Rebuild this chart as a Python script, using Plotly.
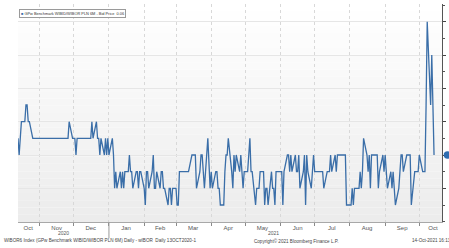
import plotly.graph_objects as go
import pandas as pd

# ---------------- data ----------------
start_date = "2020-10-13"
values = [
    0.07, 0.06, 0.07, 0.08, 0.08, 0.09, 0.09, 0.08, 0.08, 0.07,
    0.07, 0.07, 0.07, 0.07, 0.07, 0.07, 0.07, 0.07, 0.07, 0.07,
    0.07, 0.07, 0.07, 0.07, 0.07, 0.07, 0.07, 0.07, 0.07, 0.07,
    0.07, 0.07, 0.07, 0.08, 0.07, 0.07, 0.07, 0.06, 0.07, 0.07,
    0.07, 0.07, 0.07, 0.07, 0.07, 0.07, 0.07, 0.08, 0.07, 0.08,
    0.07, 0.07, 0.06, 0.07, 0.06, 0.07, 0.06, 0.07, 0.06, 0.07,
    0.06, 0.04, 0.05, 0.04, 0.05, 0.04, 0.05, 0.04, 0.05, 0.05,
    0.06, 0.05, 0.05, 0.04, 0.05, 0.05, 0.04, 0.05, 0.05, 0.04,
    0.03, 0.05, 0.05, 0.04, 0.05, 0.06, 0.04, 0.04, 0.05, 0.04,
    0.05, 0.05, 0.04, 0.04, 0.03, 0.04, 0.04, 0.03, 0.04, 0.04,
    0.03, 0.03, 0.05, 0.05, 0.05, 0.05, 0.05, 0.05, 0.05, 0.06,
    0.06, 0.06, 0.06, 0.04, 0.05, 0.06, 0.06, 0.05, 0.04, 0.07,
    0.05, 0.04, 0.05, 0.04, 0.05, 0.05, 0.04, 0.04, 0.03, 0.03,
    0.05, 0.06, 0.06, 0.07, 0.05, 0.04, 0.06, 0.05, 0.06, 0.05,
    0.06, 0.05, 0.04, 0.05, 0.05, 0.06, 0.07, 0.05, 0.05, 0.03,
    0.04, 0.04, 0.04, 0.05, 0.05, 0.03, 0.04, 0.04, 0.03, 0.05,
    0.04, 0.04, 0.03, 0.05, 0.05, 0.05, 0.05, 0.03, 0.05, 0.06,
    0.06, 0.05, 0.06, 0.05, 0.06, 0.05, 0.05, 0.06, 0.04, 0.05,
    0.06, 0.03, 0.06, 0.05, 0.04, 0.05, 0.06, 0.05, 0.05, 0.05,
    0.05, 0.05, 0.05, 0.04, 0.05, 0.05, 0.05, 0.06, 0.05, 0.06,
    0.05, 0.06, 0.06, 0.06, 0.06, 0.06, 0.06, 0.03, 0.03, 0.03,
    0.04, 0.03, 0.04, 0.04, 0.04, 0.05, 0.04, 0.05, 0.07, 0.06,
    0.05, 0.06, 0.04, 0.06, 0.06, 0.06, 0.06, 0.04, 0.05, 0.06,
    0.05, 0.06, 0.05, 0.04, 0.05, 0.04, 0.05, 0.04, 0.03, 0.04,
    0.05, 0.06, 0.06, 0.05, 0.06, 0.06, 0.06, 0.06, 0.03, 0.05,
    0.05, 0.05, 0.05, 0.06, 0.05, 0.05, 0.05, 0.09, 0.14, 0.09,
    0.12, 0.09, 0.06,
]
dates = pd.bdate_range(start=start_date, periods=len(values))

month_labels = ["Oct", "Nov", "Dec", "Jan", "Feb", "Mar", "Apr", "May",
                "Jun", "Jul", "Aug", "Sep", "Oct"]
month_label_dates = ["2020-10-22", "2020-11-16", "2020-12-16", "2021-01-16",
                     "2021-02-15", "2021-03-16", "2021-04-16", "2021-05-16",
                     "2021-06-16", "2021-07-16", "2021-08-16", "2021-09-16",
                     "2021-10-13"]
month_starts = ["2020-11-01", "2020-12-01", "2021-01-01", "2021-02-01",
                "2021-03-01", "2021-04-01", "2021-05-01", "2021-06-01",
                "2021-07-01", "2021-08-01", "2021-09-01", "2021-10-01"]
year_labels = ["2020", "2021"]
year_label_dates = ["2020-11-22", "2021-05-26"]
y_grid = [0.04, 0.06, 0.08, 0.10, 0.12, 0.14]

series_name = "GPw Benchmark WIBID/WIBOR PLN 6M - Bid Price"
footer_left = "WIBOR6 Index (GPw Benchmark WIBID/WIBOR PLN 6M) Daily - wIBOR  Daily 13OCT2020-1"
footer_center = "Copyright\u00a9 2021 Bloomberg Finance L.P."
footer_right = "14-Oct-2021 16:13"

# ---------------- figure ----------------
LINE = "#3a6ea8"
FONT = "Liberation Sans Narrow, Arial Narrow, Liberation Sans, sans-serif"

fig = go.Figure()
fig.add_trace(go.Scatter(x=dates, y=values, mode="lines",
                         line=dict(color=LINE, width=1.3),
                         name=series_name, showlegend=False))

# gradient background of the plot area
shapes = []
n = 30
for k in range(n):
    f = k / (n - 1)          # 0 at bottom, 1 at top
    g = int(round(236 + (255 - 236) * f))
    shapes.append(dict(type="rect", xref="paper", yref="paper",
                       x0=0, x1=1, y0=k / n, y1=(k + 1) / n,
                       fillcolor=f"rgb({g},{g},{g})", line=dict(width=0),
                       layer="below"))
# year separator
shapes.append(dict(type="line", xref="x", yref="paper",
                   x0="2021-01-01", x1="2021-01-01", y0=0, y1=-0.075,
                   line=dict(color="#9a9a9a", width=1)))
# last value marker on the right axis
last = values[-1]
shapes.append(dict(type="circle", xref="paper", yref="y",
                   x0=1.004, x1=1.022, y0=last - 0.0022, y1=last + 0.0022,
                   fillcolor="#2f6db0", line=dict(width=0)))

ann = [
    dict(xref="paper", yref="paper", x=0.002, y=0.978, xanchor="left", yanchor="top",
         text=f'<span style="color:{LINE}">\u25A0</span> {series_name}  0.06',
         showarrow=False, font=dict(size=3.9, color="#333", family=FONT),
         bgcolor="white", bordercolor="#9a9a9a", borderwidth=1, borderpad=1),
    dict(xref="paper", yref="paper", x=-0.0375, y=-0.087, xanchor="left", yanchor="middle",
         text=footer_left, showarrow=False, font=dict(size=4.6, color="#444", family=FONT)),
    dict(xref="paper", yref="paper", x=0.656, y=-0.087, xanchor="center", yanchor="middle",
         text=footer_center, showarrow=False, font=dict(size=4.6, color="#444", family=FONT)),
    dict(xref="paper", yref="paper", x=0.925, y=-0.087, xanchor="left", yanchor="middle",
         text=footer_right, showarrow=False, font=dict(size=4.6, color="#444", family=FONT)),
]
for d, t in zip(year_label_dates, year_labels):
    ann.append(dict(xref="x", yref="paper", x=d, y=-0.05, xanchor="center", yanchor="middle",
                    text=t, showarrow=False, font=dict(size=5, color="#555", family=FONT)))

fig.update_layout(
    width=449, height=248,
    margin=dict(l=18, r=4, t=4, b=26),
    paper_bgcolor="white", plot_bgcolor="white",
    shapes=shapes, annotations=ann,
    showlegend=False,
    xaxis=dict(type="date", range=["2020-10-13", "2021-10-21"],
               tickmode="array", tickvals=month_label_dates, ticktext=month_labels,
               ticks="", tickfont=dict(size=6, color="#555", family=FONT),
               showgrid=False, showline=True, linecolor="#a8a8a8", linewidth=1,
               zeroline=False,
               minor=dict(tickmode="array", tickvals=month_starts, showgrid=True,
                          gridcolor="#d8d8d8", griddash="dot", gridwidth=1,
                          ticks="outside", ticklen=3, tickcolor="#8a8a8a")),
    yaxis=dict(side="right", range=[0.0198, 0.1506],
               tickmode="array", tickvals=y_grid, showticklabels=False,
               ticks="outside", ticklen=3, tickcolor="#444",
               showgrid=True, gridcolor="#e6e6e6", gridwidth=1,
               showline=True, linecolor="#555", linewidth=1, zeroline=False,
               minor=dict(dtick=0.01, tick0=0.01, ticks="outside", ticklen=2,
                          tickcolor="#555", showgrid=False)),
)

fig.write_html("out.html", config={"displayModeBar": False},
               post_script="document.body.style.margin='0';document.body.style.padding='0';")
